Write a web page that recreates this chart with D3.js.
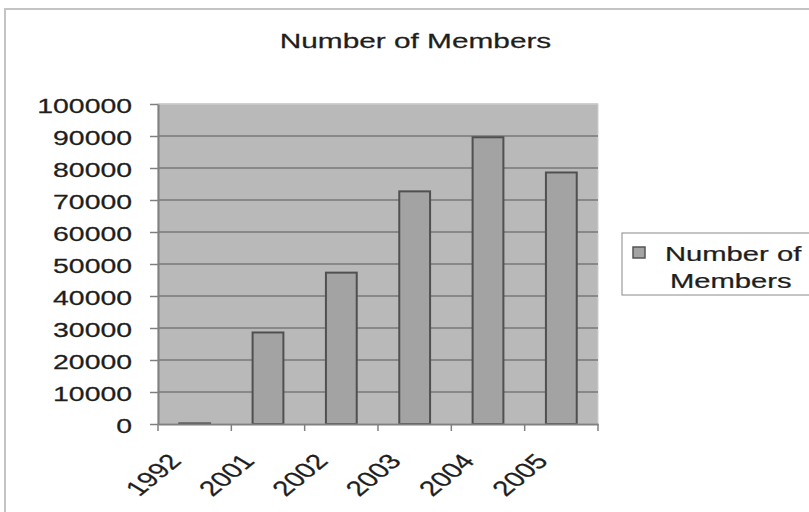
<!DOCTYPE html>
<html>
<head>
<meta charset="utf-8">
<script src="https://cdn.jsdelivr.net/npm/d3@7"></script>
<style>
  html, body { margin: 0; padding: 0; background: #fff; }
  svg { display: block; }
  text { font-family: "Liberation Sans", Arial, sans-serif; fill: #1e1e1e; stroke: #1e1e1e; stroke-width: 0.25px; }
</style>
</head>
<body>
<svg id="chart" width="809" height="512"></svg>
<script>
const categories = ["1992", "2001", "2002", "2003", "2004", "2005"];
const members = [200, 28600, 47300, 72700, 89600, 78600];
const yTicks = [0, 10000, 20000, 30000, 40000, 50000, 60000, 70000, 80000, 90000, 100000];
const titleText = "Number of Members";
const legendLines = ["Number of", "Members"];

const SX = 1.42; // horizontal stretch of the original picture's text
const svg = d3.select("#chart");

// outer chart border
svg.append("rect").attr("x", 5).attr("y", 9).attr("width", 900).attr("height", 600)
  .attr("fill", "#fff").attr("stroke", "#c4c4c4").attr("stroke-width", 2);

const plot = { left: 158, right: 598, top: 104, bottom: 424 };

const x = d3.scaleBand().domain(categories).range([plot.left, plot.right]).padding(0);
const y = d3.scaleLinear().domain([0, 100000]).range([plot.bottom, plot.top]);

// plot background
svg.append("rect").attr("x", plot.left).attr("y", plot.top)
  .attr("width", plot.right - plot.left).attr("height", plot.bottom - plot.top)
  .attr("fill", "#b9b9b9").attr("stroke", "#cfcfcf").attr("stroke-width", 1);

// gridlines
svg.append("g").selectAll("line").data(yTicks.filter(d => d > 0)).join("line")
  .attr("x1", plot.left).attr("x2", plot.right)
  .attr("y1", d => y(d)).attr("y2", d => y(d))
  .attr("stroke", d => d === 100000 ? "#c8c8c8" : "#787878").attr("stroke-width", 1.5);

// bars
const barW = x.bandwidth() * 0.42;
svg.append("g").selectAll("rect").data(categories).join("rect")
  .attr("x", (d) => x(d) + x.bandwidth() / 2 - barW / 2)
  .attr("y", (d, i) => y(members[i]))
  .attr("width", barW)
  .attr("height", (d, i) => y(0) - y(members[i]))
  .attr("fill", "#a3a3a3").attr("stroke", "#505050").attr("stroke-width", 2);

// y axis
const yAxis = svg.append("g").attr("transform", `translate(${plot.left},0)`)
  .call(d3.axisLeft(y).tickValues(yTicks).tickSize(8).tickSizeOuter(0).tickFormat(d3.format("d")));
yAxis.select(".domain").attr("stroke", "#808080").attr("stroke-width", 2);
yAxis.selectAll(".tick line").attr("stroke", "#808080").attr("stroke-width", 1.5);
yAxis.selectAll(".tick text")
  .attr("x", 0).attr("dy", null).attr("y", 0)
  .attr("transform", "translate(-26,8) scale(" + SX + ",1)")
  .attr("text-anchor", "end")
  .style("font-size", "20px").style("font-family", "'Liberation Sans', Arial, sans-serif").attr("fill", "#1e1e1e");

// x axis (labels), ticks at category boundaries
const xAxis = svg.append("g").attr("transform", `translate(0,${plot.bottom})`)
  .call(d3.axisBottom(x).tickSize(0).tickSizeOuter(0));
xAxis.select(".domain").attr("stroke", "#808080").attr("stroke-width", 2);
xAxis.selectAll(".tick text")
  .attr("x", 0).attr("y", 0).attr("dy", null)
  .attr("transform", "translate(-12,38) scale(" + SX + ",1) rotate(-49)")
  .attr("text-anchor", "end")
  .style("font-size", "21px").style("font-family", "'Liberation Sans', Arial, sans-serif").attr("fill", "#1e1e1e");
const boundaries = categories.map(c => x(c)).concat([x.range()[1]]);
svg.append("g").selectAll("line").data(boundaries).join("line")
  .attr("x1", d => d).attr("x2", d => d)
  .attr("y1", plot.bottom).attr("y2", plot.bottom + 7)
  .attr("stroke", "#808080").attr("stroke-width", 1.5);

// title
svg.append("text").attr("transform", `translate(${(278 + 553) / 2},48) scale(${SX},1)`)
  .attr("text-anchor", "middle").style("font-size", "21px").text(titleText);

// legend
svg.append("rect").attr("x", 622).attr("y", 233).attr("width", 220).attr("height", 62)
  .attr("fill", "#fff").attr("stroke", "#8a8a8a").attr("stroke-width", 1);
svg.append("rect").attr("x", 633).attr("y", 247).attr("width", 12).attr("height", 11)
  .attr("fill", "#a3a3a3").attr("stroke", "#555").attr("stroke-width", 1.5);
svg.append("text").attr("transform", `translate(665,261) scale(1.46,1)`)
  .style("font-size", "20px").text(legendLines[0]);
svg.append("text").attr("transform", `translate(670,288) scale(1.46,1)`)
  .style("font-size", "20px").text(legendLines[1]);
</script>
</body>
</html>
